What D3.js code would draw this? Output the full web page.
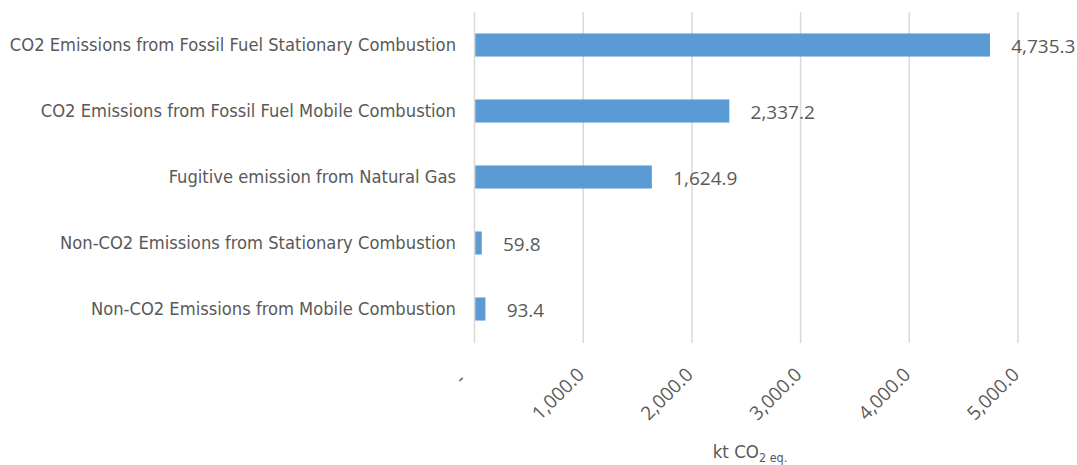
<!DOCTYPE html>
<html>
<head>
<meta charset="utf-8">
<script src="https://cdn.jsdelivr.net/npm/d3@7"></script>
<style>
  body { margin: 0; background: #fff; }
  svg text { fill: #595959; }
</style>
</head>
<body>
<div id="chart"></div>
<script>
// data
var categories = [
  'CO2 Emissions from Fossil Fuel Stationary Combustion',
  'CO2 Emissions from Fossil Fuel Mobile Combustion',
  'Fugitive emission from Natural Gas',
  'Non-CO2 Emissions from Stationary Combustion',
  'Non-CO2 Emissions from Mobile Combustion'
];
var values = [4735.3, 2337.2, 1624.9, 59.8, 93.4];
var tickValues = [0, 1000, 2000, 3000, 4000, 5000];

var width = 1077, height = 465;
var margin = {top: 12, right: 59, bottom: 123, left: 474.5};

var svg = d3.select('#chart').append('svg')
  .attr('width', width)
  .attr('height', height);

var x = d3.scaleLinear()
  .domain([0, 5000])
  .range([margin.left, width - margin.right]);

var y = d3.scaleBand()
  .domain(categories)
  .range([margin.top, height - margin.bottom])
  .paddingInner(0.65)
  .paddingOuter(0.325);

var fmt = d3.format(',.1f');

//gridlines
svg.append('g')
  .selectAll('line')
  .data(tickValues)
  .enter()
  .append('line')
  .attr('x1', function(d){ return x(d); })
  .attr('x2', function(d){ return x(d); })
  .attr('y1', margin.top)
  .attr('y2', height - margin.bottom + 1)
  .attr('stroke', '#d9d9d9')
  .attr('stroke-width', 1.5);

//bars
svg.append('g')
  .selectAll('rect')
  .data(values)
  .enter()
  .append('rect')
  .attr('x', x(0) + 0.75)
  .attr('y', function(d, i){ return y(categories[i]); })
  .attr('width', function(d){ return x(d) - x(0); })
  .attr('height', y.bandwidth())
  .attr('fill', '#5b9bd5');

//value labels
svg.append('g')
  .selectAll('text')
  .data(values)
  .enter()
  .append('text')
  .attr('x', function(d){ return x(d) + 22; })
  .attr('y', function(d, i){ return y(categories[i]) + y.bandwidth() / 2 + 1; })
  .attr('dominant-baseline', 'central')
  .attr('font-family', 'Open Sans')
  .attr('font-size', 19)
  .text(function(d){ return fmt(d); });

//category labels
var yAxis = d3.axisLeft(y).tickSize(0).tickPadding(0);
svg.append('g')
  .attr('transform', 'translate(456,0)')
  .call(yAxis)
  .call(function(g){ g.select('.domain').remove(); })
  .selectAll('text')
  .attr('font-family', 'DejaVu Sans Condensed')
  .attr('font-size', 18.2)
  .attr('fill', '#595959')
  .attr('dy', '0.35em');

//x axis labels, rotated
var xAxis = d3.axisBottom(x)
  .tickValues(tickValues)
  .tickSize(0)
  .tickFormat(function(d){ return d === 0 ? '-' : fmt(d); });

svg.append('g')
  .attr('transform', 'translate(0,' + (height - margin.bottom) + ')')
  .call(xAxis)
  .call(function(g){ g.select('.domain').remove(); })
  .selectAll('text')
  .attr('font-family', 'Open Sans')
  .attr('font-size', 19)
  .attr('fill', '#595959')
  .attr('text-anchor', 'end')
  .attr('dy', '0.35em')
  .attr('transform', function(d){ return d === 0 ? 'translate(-15,32) rotate(-45)' : 'translate(-5,27) rotate(-45)'; });

//axis title
var title = svg.append('text')
  .attr('x', 750)
  .attr('y', 458)
  .attr('text-anchor', 'middle')
  .attr('font-family', 'DejaVu Sans Condensed')
  .attr('font-size', 18.5);
title.append('tspan').text('kt CO');
title.append('tspan').attr('font-size', 12.5).attr('dy', 4).text('2 eq.');
</script>
</body>
</html>
